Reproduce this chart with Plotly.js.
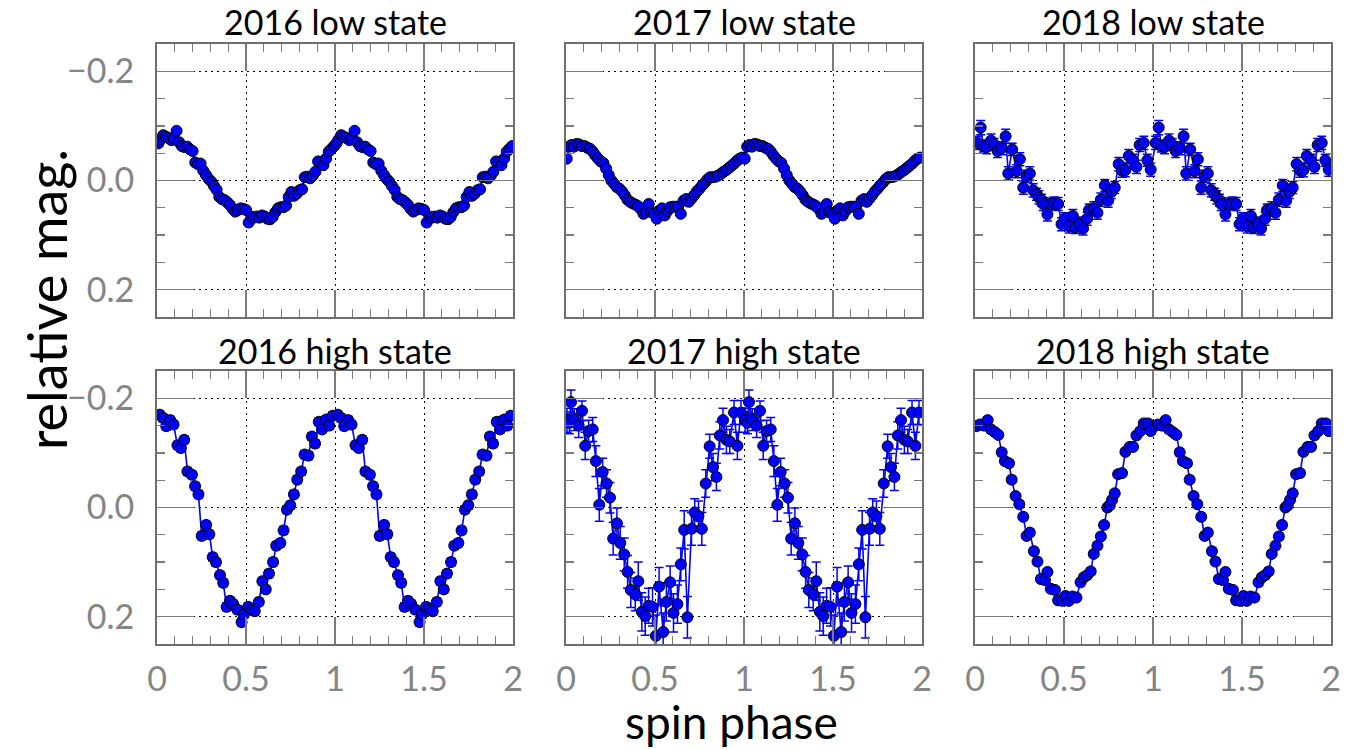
<!DOCTYPE html>
<html>
<head>
<meta charset="utf-8">
<script src="https://cdn.plot.ly/plotly-3.0.1.min.js"></script>
<style>html,body{margin:0;padding:0;background:#fff;}#chart{width:1354px;height:750px;}</style>
</head>
<body>
<div id="chart"></div>
<script>
// ---- Data (one spin cycle per panel; the plot shows it twice, phase 0-2) ----
const panelTitles = ["2016 low state", "2017 low state", "2018 low state",
                     "2016 high state", "2017 high state", "2018 high state"];

const ph16L = [0.008,0.02,0.035,0.05,0.065,0.08,0.095,0.11,0.125,0.14,0.155,0.17,0.185,0.2,0.215,0.23,0.245,0.26,0.275,0.29,0.305,0.32,0.335,0.35,0.365,0.38,0.395,0.41,0.425,0.44,0.455,0.47,0.485,0.5,0.515,0.53,0.545,0.56,0.575,0.59,0.605,0.62,0.635,0.65,0.665,0.68,0.695,0.71,0.725,0.74,0.755,0.77,0.785,0.8,0.815,0.83,0.845,0.86,0.875,0.89,0.905,0.92,0.935,0.95,0.965,0.98,0.995];
const mag16L = [-0.068,-0.075,-0.083,-0.080,-0.078,-0.074,-0.076,-0.091,-0.070,-0.063,-0.061,-0.062,-0.057,-0.054,-0.033,-0.030,-0.031,-0.018,-0.010,-0.003,0.002,0.010,0.017,0.030,0.034,0.036,0.040,0.045,0.052,0.057,0.054,0.051,0.052,0.054,0.077,0.066,0.068,0.066,0.068,0.064,0.066,0.070,0.071,0.067,0.058,0.051,0.049,0.049,0.046,0.030,0.021,0.028,0.024,0.018,0.016,-0.006,-0.007,-0.004,-0.009,-0.016,-0.035,-0.033,-0.028,-0.040,-0.053,-0.058,-0.063];
const err16L = 0.003;

const ph17L = [0.004,0.018,0.03,0.045,0.06,0.075,0.09,0.105,0.12,0.135,0.15,0.165,0.18,0.195,0.21,0.225,0.24,0.255,0.27,0.285,0.3,0.315,0.33,0.345,0.36,0.375,0.39,0.405,0.42,0.435,0.45,0.465,0.48,0.495,0.51,0.525,0.54,0.555,0.57,0.585,0.6,0.615,0.63,0.645,0.66,0.675,0.69,0.705,0.72,0.735,0.75,0.765,0.78,0.795,0.81,0.825,0.84,0.855,0.87,0.885,0.9,0.915,0.93,0.945,0.96,0.975,0.99];
const mag17L = [-0.040,-0.062,-0.065,-0.062,-0.067,-0.066,-0.063,-0.063,-0.060,-0.058,-0.053,-0.046,-0.040,-0.035,-0.032,-0.022,-0.010,0.000,0.006,0.012,0.015,0.020,0.027,0.035,0.039,0.042,0.044,0.047,0.052,0.061,0.058,0.043,0.058,0.061,0.070,0.055,0.051,0.064,0.056,0.049,0.048,0.048,0.048,0.061,0.037,0.034,0.039,0.033,0.027,0.020,0.015,0.009,0.004,-0.002,-0.006,-0.006,-0.007,-0.009,-0.012,-0.016,-0.019,-0.023,-0.027,-0.031,-0.036,-0.040,-0.042];
const err17L = 0.002;

const ph18L = [0.015,0.032,0.047,0.065,0.09,0.108,0.127,0.15,0.172,0.187,0.209,0.234,0.252,0.271,0.29,0.308,0.327,0.346,0.359,0.374,0.383,0.407,0.426,0.445,0.467,0.486,0.505,0.529,0.55,0.564,0.589,0.607,0.63,0.641,0.667,0.688,0.707,0.729,0.748,0.766,0.785,0.807,0.826,0.845,0.864,0.888,0.907,0.925,0.948,0.968,0.987];
const mag18L = [-0.069,-0.097,-0.063,-0.061,-0.073,-0.066,-0.054,-0.059,-0.081,-0.013,-0.057,-0.017,-0.039,0.013,-0.008,-0.013,0.018,0.025,0.031,0.036,0.043,0.062,0.043,0.042,0.043,0.080,0.070,0.084,0.065,0.086,0.079,0.088,0.070,0.054,0.051,0.059,0.035,0.009,0.037,0.021,0.013,-0.030,-0.018,-0.019,-0.045,-0.037,-0.025,-0.065,-0.069,-0.037,-0.020];
const err18L = [0.012,0.013,0.011,0.012,0.012,0.011,0.012,0.012,0.013,0.012,0.011,0.012,0.012,0.012,0.011,0.012,0.012,0.011,0.012,0.011,0.012,0.012,0.011,0.012,0.012,0.012,0.011,0.012,0.012,0.011,0.012,0.012,0.012,0.011,0.012,0.012,0.012,0.011,0.012,0.012,0.011,0.012,0.012,0.012,0.012,0.011,0.012,0.012,0.012,0.011,0.012];

const ph16H = [0.015,0.034,0.052,0.074,0.093,0.115,0.134,0.153,0.171,0.196,0.214,0.233,0.251,0.276,0.294,0.313,0.331,0.354,0.372,0.391,0.41,0.428,0.451,0.475,0.488,0.512,0.531,0.549,0.572,0.592,0.611,0.629,0.652,0.67,0.693,0.711,0.73,0.749,0.769,0.788,0.81,0.829,0.851,0.87,0.888,0.909,0.927,0.95,0.968,0.987];
const mag16H = [-0.170,-0.164,-0.149,-0.160,-0.152,-0.114,-0.109,-0.124,-0.066,-0.060,-0.039,-0.024,0.052,0.032,0.049,0.091,0.100,0.124,0.138,0.182,0.171,0.177,0.187,0.210,0.196,0.182,0.187,0.190,0.173,0.135,0.150,0.121,0.100,0.070,0.065,0.042,0.004,-0.004,-0.024,-0.051,-0.066,-0.097,-0.095,-0.130,-0.117,-0.157,-0.143,-0.161,-0.150,-0.168];
const err16H = 0.007;

const ph17H = [0.006,0.019,0.028,0.047,0.071,0.09,0.108,0.127,0.15,0.168,0.187,0.206,0.228,0.247,0.265,0.286,0.305,0.327,0.346,0.364,0.389,0.406,0.426,0.445,0.464,0.486,0.505,0.523,0.546,0.564,0.585,0.604,0.626,0.645,0.664,0.682,0.705,0.723,0.744,0.763,0.785,0.807,0.826,0.845,0.864,0.882,0.901,0.92,0.944,0.963,0.983];
const mag17H = [-0.160,-0.155,-0.193,-0.161,-0.150,-0.177,-0.113,-0.140,-0.143,-0.085,-0.005,-0.065,-0.044,-0.018,0.057,0.029,0.065,0.086,0.118,0.151,0.159,0.135,0.191,0.199,0.180,0.182,0.235,0.145,0.228,0.173,0.137,0.193,0.177,0.104,0.041,0.201,0.039,0.009,0.016,0.039,-0.044,-0.112,-0.074,-0.056,-0.132,-0.160,-0.124,-0.121,-0.174,-0.113,-0.174];
const err17H = [0.022,0.020,0.022,0.020,0.022,0.018,0.025,0.020,0.022,0.028,0.030,0.025,0.025,0.028,0.030,0.028,0.030,0.030,0.030,0.032,0.030,0.035,0.035,0.035,0.032,0.035,0.038,0.035,0.035,0.035,0.030,0.035,0.035,0.030,0.035,0.038,0.030,0.025,0.028,0.030,0.025,0.022,0.025,0.025,0.025,0.022,0.025,0.022,0.022,0.025,0.022];

const ph18H = [0.009,0.028,0.05,0.071,0.09,0.112,0.131,0.15,0.168,0.191,0.206,0.228,0.249,0.271,0.29,0.308,0.331,0.351,0.37,0.393,0.407,0.426,0.449,0.467,0.49,0.508,0.527,0.548,0.57,0.593,0.611,0.63,0.65,0.667,0.688,0.707,0.725,0.744,0.757,0.77,0.785,0.804,0.826,0.845,0.869,0.888,0.907,0.929,0.948,0.972,0.987];
const mag18H = [-0.149,-0.152,-0.150,-0.160,-0.143,-0.138,-0.133,-0.101,-0.085,-0.081,-0.051,-0.021,-0.006,0.017,0.052,0.046,0.080,0.099,0.131,0.133,0.118,0.149,0.151,0.170,0.171,0.162,0.171,0.163,0.165,0.137,0.128,0.124,0.117,0.085,0.070,0.053,0.032,0.000,-0.004,-0.014,-0.026,-0.061,-0.063,-0.102,-0.111,-0.111,-0.132,-0.140,-0.154,-0.154,-0.140];
const err18H = 0.006;

const xTitle = "spin phase";
const yTitle = "relative mag.";

// ---- Build ----
const panels = [
  {ph: ph16L, mag: mag16L, err: err16L},
  {ph: ph17L, mag: mag17L, err: err17L},
  {ph: ph18L, mag: mag18L, err: err18L},
  {ph: ph16H, mag: mag16H, err: err16H},
  {ph: ph17H, mag: mag17H, err: err17H},
  {ph: ph18H, mag: mag18H, err: err18H}
];

const W = 1354, H = 750;
const colPx = [[157, 513], [566, 922], [975, 1331]];
const rowPx = [[44, 317], [371, 644]];
const FONT = "Lato, 'DejaVu Sans', sans-serif";
const BLUE = "#0000ff";

const traces = [];
const layout = {
  width: W, height: H,
  margin: {l: 0, r: 0, t: 0, b: 0},
  paper_bgcolor: "#fff", plot_bgcolor: "#fff",
  showlegend: false,
  font: {family: FONT},
  annotations: []
};

panels.forEach((p, i) => {
  const r = Math.floor(i / 3), c = i % 3;
  const n = i + 1;
  const xs = p.ph.concat(p.ph.map(v => v + 1));
  const ys = p.mag.concat(p.mag);
  const errArr = Array.isArray(p.err) ? p.err.concat(p.err) : null;
  traces.push({
    type: "scatter", mode: "lines+markers",
    x: xs, y: ys,
    xaxis: "x" + (n === 1 ? "" : n), yaxis: "y" + (n === 1 ? "" : n),
    line: {color: BLUE, width: 1.6},
    marker: {color: BLUE, size: 11, line: {color: "#000", width: 1}},
    error_y: errArr ? {type: "data", array: errArr, visible: true, color: BLUE, thickness: 1.5, width: 4.5}
                    : {type: "constant", value: p.err, visible: true, color: BLUE, thickness: 1.5, width: 4.5},
    hoverinfo: "skip"
  });
  const xd = [colPx[c][0] / W, colPx[c][1] / W];
  const yd = [1 - rowPx[r][1] / H, 1 - rowPx[r][0] / H];
  const common = {
    showline: true, linecolor: "#6e6e6e", linewidth: 2, mirror: "allticks",
    ticks: "inside", tickcolor: "#7a7a7a", tickwidth: 1.3,
    showgrid: true, gridcolor: "#000", gridwidth: 1, griddash: "2px,4px",
    zeroline: false, fixedrange: true, automargin: false,
    tickfont: {family: FONT, size: 34, color: "#858585"}
  };
  layout["xaxis" + (n === 1 ? "" : n)] = Object.assign({}, common, {
    domain: xd, anchor: "y" + (n === 1 ? "" : n),
    range: [0, 2], tickmode: "linear", tick0: 0, dtick: 0.5, ticklen: 27,
    showticklabels: r === 1, ticklabelstandoff: 4,
    minor: {tickmode: "linear", tick0: 0, dtick: 0.1, ticks: "inside", ticklen: 8, tickcolor: "#7a7a7a", tickwidth: 1.3, showgrid: false}
  });
  layout["yaxis" + (n === 1 ? "" : n)] = Object.assign({}, common, {
    domain: yd, anchor: "x" + (n === 1 ? "" : n),
    range: [0.25, -0.25], tickmode: "linear", tick0: 0, dtick: 0.2, tickformat: ".1f", ticklen: 37,
    showticklabels: c === 0, ticklabelstandoff: 14,
    minor: {tickmode: "linear", tick0: 0, dtick: 0.05, ticks: "inside", ticklen: 8, tickcolor: "#7a7a7a", tickwidth: 1.3, showgrid: false}
  });
  layout.annotations.push({
    text: panelTitles[i], xref: "paper", yref: "paper",
    x: (xd[0] + xd[1]) / 2, y: r === 0 ? 1 - 22 / H : 1 - 350 / H,
    xanchor: "center", yanchor: "middle", showarrow: false,
    font: {family: FONT, size: 34, color: "#000"}
  });
});

layout.annotations.push({
  text: yTitle, xref: "paper", yref: "paper", x: 46 / W, y: 1 - 300 / H,
  xanchor: "center", yanchor: "middle", textangle: -90, showarrow: false,
  font: {family: FONT, size: 54, color: "#000"}
});
layout.annotations.push({
  text: xTitle, xref: "paper", yref: "paper", x: 732 / W, y: 1 - 721 / H,
  xanchor: "center", yanchor: "middle", showarrow: false,
  font: {family: FONT, size: 46, color: "#000"}
});

Plotly.newPlot("chart", traces, layout, {displayModeBar: false, staticPlot: true});
</script>
</body>
</html>
